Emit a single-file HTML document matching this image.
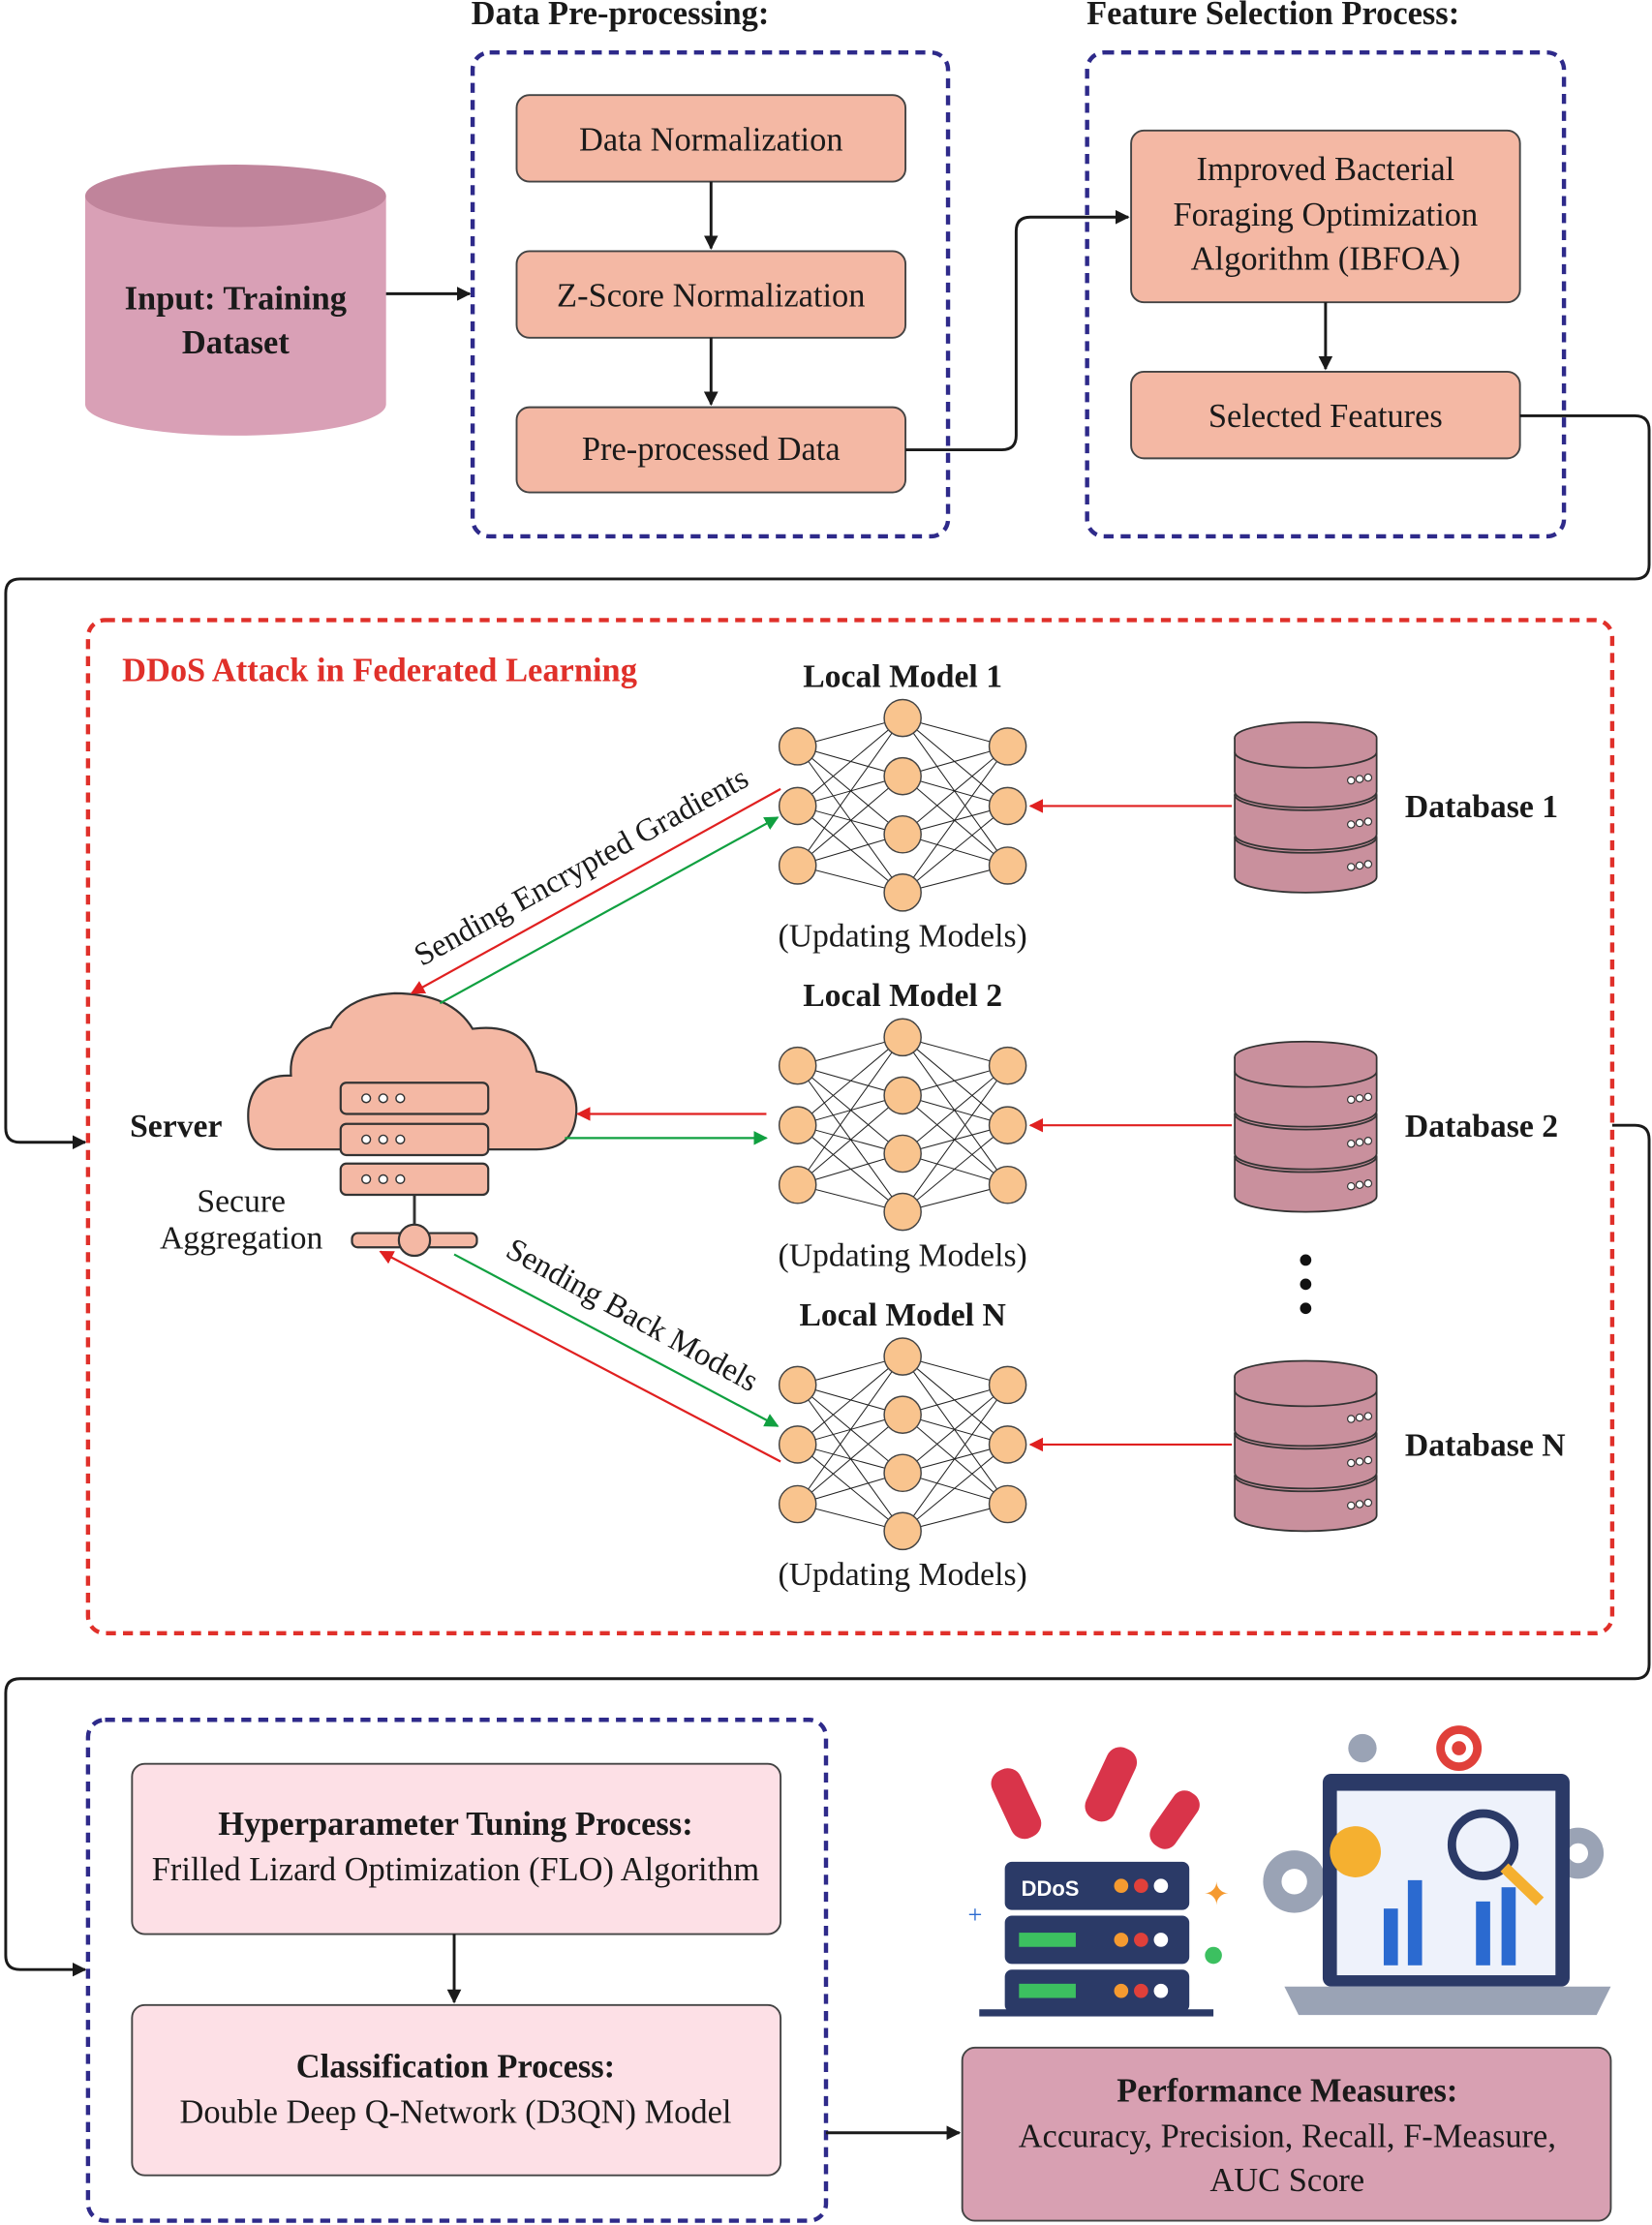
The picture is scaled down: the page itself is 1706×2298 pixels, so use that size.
<!DOCTYPE html>
<html><head><meta charset="utf-8"><style>
html,body{margin:0;padding:0;background:#fff;width:1706px;height:2298px;overflow:hidden}
svg{display:block}
text{font-family:"Liberation Serif",serif;fill:#1a1a1a}
.b{font-weight:bold}
</style></head><body>
<svg width="1706" height="2298" viewBox="0 0 1164 1568" xmlns="http://www.w3.org/2000/svg">
<defs>
<marker id="ak" markerWidth="10" markerHeight="10" refX="9" refY="5" orient="auto" markerUnits="userSpaceOnUse"><path d="M0,0 L10,5 L0,10 z" fill="#1a1a1a"/></marker>
<marker id="ar" markerWidth="10" markerHeight="10" refX="9" refY="5" orient="auto" markerUnits="userSpaceOnUse"><path d="M0,0 L10,5 L0,10 z" fill="#e02020"/></marker>
<marker id="ag" markerWidth="10" markerHeight="10" refX="9" refY="5" orient="auto" markerUnits="userSpaceOnUse"><path d="M0,0 L10,5 L0,10 z" fill="#10a040"/></marker>
<g id="nn" stroke="#333" stroke-width="0.6">
<g stroke="#222" stroke-width="0.7">
<path d="M562,526 L636,506 M562,526 L636,547 M562,526 L636,588 M562,526 L636,629 M562,568 L636,506 M562,568 L636,547 M562,568 L636,588 M562,568 L636,629 M562,610 L636,506 M562,610 L636,547 M562,610 L636,588 M562,610 L636,629 M710,526 L636,506 M710,526 L636,547 M710,526 L636,588 M710,526 L636,629 M710,568 L636,506 M710,568 L636,547 M710,568 L636,588 M710,568 L636,629 M710,610 L636,506 M710,610 L636,547 M710,610 L636,588 M710,610 L636,629"/>
</g>
<g fill="#f9c48e" stroke="#444" stroke-width="1">
<circle cx="562" cy="526" r="13"/><circle cx="562" cy="568" r="13"/><circle cx="562" cy="610" r="13"/>
<circle cx="636" cy="506" r="13"/><circle cx="636" cy="547" r="13"/><circle cx="636" cy="588" r="13"/><circle cx="636" cy="629" r="13"/>
<circle cx="710" cy="526" r="13"/><circle cx="710" cy="568" r="13"/><circle cx="710" cy="610" r="13"/>
</g></g>
<g id="db" stroke="#333" stroke-width="1.2">
<path d="M870,590 v28 a50,11 0 0 0 100,0 v-28" fill="#c9909d"/>
<ellipse cx="920" cy="590" rx="50" ry="11" fill="#c9909d"/>
<path d="M870,560 v28 a50,11 0 0 0 100,0 v-28" fill="#c9909d"/>
<ellipse cx="920" cy="560" rx="50" ry="11" fill="#c9909d"/>
<path d="M870,530 v28 a50,11 0 0 0 100,0 v-28" fill="#c9909d"/>
<ellipse cx="920" cy="520" rx="50" ry="11" fill="#c9909d"/>
<path d="M870,520 v10 a50,11 0 0 0 100,0 v-10" fill="#c9909d"/>
<g fill="#fff" stroke-width="0.8"><circle cx="952" cy="550" r="2.5"/><circle cx="958" cy="549" r="2.5"/><circle cx="964" cy="548" r="2.5"/><circle cx="952" cy="581" r="2.5"/><circle cx="958" cy="580" r="2.5"/><circle cx="964" cy="579" r="2.5"/><circle cx="952" cy="611" r="2.5"/><circle cx="958" cy="610" r="2.5"/><circle cx="964" cy="609" r="2.5"/></g>
</g>
</defs>

<text x="437" y="17" class="b" font-size="23.5" text-anchor="middle">Data Pre-processing:</text>
<text x="897" y="17" class="b" font-size="23.5" text-anchor="middle">Feature Selection Process:</text>
<rect x="333" y="37" width="335" height="341" rx="12" fill="none" stroke="#2e2a8a" stroke-width="3" stroke-dasharray="7,5"/>
<rect x="766" y="37" width="336" height="341" rx="12" fill="none" stroke="#2e2a8a" stroke-width="3" stroke-dasharray="7,5"/>

<path d="M60,138 v147 a106,22 0 0 0 212,0 v-147" fill="#d9a0b6" stroke="none"/>
<ellipse cx="166" cy="138" rx="106" ry="22" fill="#c0849b"/>
<text x="166" y="218" class="b" font-size="23.5" text-anchor="middle">Input: Training</text>
<text x="166" y="249" class="b" font-size="23.5" text-anchor="middle">Dataset</text>
<line x1="272" y1="207" x2="331" y2="207" stroke="#1a1a1a" stroke-width="2" marker-end="url(#ak)"/>

<g fill="#f4b8a4" stroke="#444" stroke-width="1.3">
<rect x="364" y="67" width="274" height="61" rx="9"/>
<rect x="364" y="177" width="274" height="61" rx="9"/>
<rect x="364" y="287" width="274" height="60" rx="9"/>
<rect x="797" y="92" width="274" height="121" rx="9"/>
<rect x="797" y="262" width="274" height="61" rx="9"/>
</g>
<text x="501" y="106" font-size="23.5" text-anchor="middle">Data Normalization</text>
<text x="501" y="216" font-size="23.5" text-anchor="middle">Z-Score Normalization</text>
<text x="501" y="324" font-size="23.5" text-anchor="middle">Pre-processed Data</text>
<text x="934" y="127" font-size="23.5" text-anchor="middle">Improved Bacterial</text>
<text x="934" y="159" font-size="23.5" text-anchor="middle">Foraging Optimization</text>
<text x="934" y="190" font-size="23.5" text-anchor="middle">Algorithm (IBFOA)</text>
<text x="934" y="301" font-size="23.5" text-anchor="middle">Selected Features</text>
<g stroke="#1a1a1a" stroke-width="2" fill="none">
<line x1="501" y1="128" x2="501" y2="175" marker-end="url(#ak)"/>
<line x1="501" y1="238" x2="501" y2="285" marker-end="url(#ak)"/>
<line x1="934" y1="213" x2="934" y2="260" marker-end="url(#ak)"/>
<path d="M638,317 H706 q10,0 10,-10 V163 q0,-10 10,-10 H795" marker-end="url(#ak)"/>
<path d="M1071,293 H1152 q10,0 10,10 V398 q0,10 -10,10 H14 q-10,0 -10,10 V795 q0,10 10,10 H60" marker-end="url(#ak)"/>
<path d="M1136,793 H1152 q10,0 10,10 V1173 q0,10 -10,10 H14 q-10,0 -10,10 V1378 q0,10 10,10 H60" marker-end="url(#ak)"/>
</g>

<rect x="62" y="437" width="1074" height="714" rx="12" fill="none" stroke="#e0302a" stroke-width="3" stroke-dasharray="7,5"/>
<text x="86" y="480" class="b" font-size="23.5" style="fill:#e0302a">DDoS Attack in Federated Learning</text>

<use href="#nn"/>
<use href="#nn" y="225"/>
<use href="#nn" y="450"/>
<text x="636" y="484" class="b" font-size="23" text-anchor="middle">Local Model 1</text>
<text x="636" y="709" class="b" font-size="23" text-anchor="middle">Local Model 2</text>
<text x="636" y="934" class="b" font-size="23" text-anchor="middle">Local Model N</text>
<text x="636" y="667" font-size="23" text-anchor="middle">(Updating Models)</text>
<text x="636" y="892" font-size="23" text-anchor="middle">(Updating Models)</text>
<text x="636" y="1117" font-size="23" text-anchor="middle">(Updating Models)</text>

<use href="#db"/>
<use href="#db" y="225"/>
<use href="#db" y="450"/>
<text x="990" y="576" class="b" font-size="23">Database 1</text>
<text x="990" y="801" class="b" font-size="23">Database 2</text>
<text x="990" y="1026" class="b" font-size="23">Database N</text>
<circle cx="920" cy="888" r="4" fill="#111"/><circle cx="920" cy="905" r="4" fill="#111"/><circle cx="920" cy="922" r="4" fill="#111"/>
<g stroke="#e02020" stroke-width="1.5">
<line x1="868" y1="568" x2="726" y2="568" marker-end="url(#ar)"/>
<line x1="868" y1="793" x2="726" y2="793" marker-end="url(#ar)"/>
<line x1="868" y1="1018" x2="726" y2="1018" marker-end="url(#ar)"/>
</g>

<path d="M195,810 q-22,0 -20,-28 q3,-25 30,-24 q-2,-28 28,-34 q10,-22 45,-24 q40,0 55,25 q40,-5 45,30 q30,5 28,30 q-2,25 -28,25 z" fill="#f4b8a4" stroke="#333" stroke-width="1.5"/>
<g fill="#f4b8a4" stroke="#333" stroke-width="1.5">
<rect x="240" y="763" width="104" height="22" rx="4"/>
<rect x="240" y="792" width="104" height="22" rx="4"/>
<rect x="240" y="820" width="104" height="22" rx="4"/>
<rect x="248" y="869" width="88" height="10" rx="4"/>
<circle cx="292" cy="874" r="11"/>
</g>
<line x1="292" y1="842" x2="292" y2="863" stroke="#333" stroke-width="2"/>
<g fill="#fff" stroke="#333" stroke-width="1"><circle cx="258" cy="774" r="3"/><circle cx="270" cy="774" r="3"/><circle cx="282" cy="774" r="3"/><circle cx="258" cy="803" r="3"/><circle cx="270" cy="803" r="3"/><circle cx="282" cy="803" r="3"/><circle cx="258" cy="831" r="3"/><circle cx="270" cy="831" r="3"/><circle cx="282" cy="831" r="3"/></g>
<text x="124" y="801" class="b" font-size="23" text-anchor="middle">Server</text>
<text x="170" y="854" font-size="23" text-anchor="middle">Secure</text>
<text x="170" y="880" font-size="23" text-anchor="middle">Aggregation</text>

<line x1="550" y1="556" x2="290" y2="700" stroke="#e02020" stroke-width="1.5" marker-end="url(#ar)"/>
<line x1="310" y1="707" x2="548" y2="576" stroke="#10a040" stroke-width="1.5" marker-end="url(#ag)"/>
<line x1="540" y1="785" x2="407" y2="785" stroke="#e02020" stroke-width="1.5" marker-end="url(#ar)"/>
<line x1="398" y1="802" x2="540" y2="802" stroke="#10a040" stroke-width="1.5" marker-end="url(#ag)"/>
<line x1="320" y1="884" x2="548" y2="1005" stroke="#10a040" stroke-width="1.5" marker-end="url(#ag)"/>
<line x1="550" y1="1030" x2="268" y2="882" stroke="#e02020" stroke-width="1.5" marker-end="url(#ar)"/>
<text x="413" y="617" font-size="22.5" text-anchor="middle" transform="rotate(-29 413 617)">Sending Encrypted Gradients</text>
<text x="442" y="933" font-size="22.5" text-anchor="middle" transform="rotate(29 442 933)">Sending Back Models</text>

<rect x="62" y="1212" width="520" height="353" rx="12" fill="none" stroke="#2e2a8a" stroke-width="3" stroke-dasharray="7,5"/>
<g fill="#fde0e6" stroke="#444" stroke-width="1.3">
<rect x="93" y="1243" width="457" height="120" rx="9"/>
<rect x="93" y="1413" width="457" height="120" rx="9"/>
</g>
<text x="321" y="1293" class="b" font-size="23.5" text-anchor="middle">Hyperparameter Tuning Process:</text>
<text x="321" y="1325" font-size="23.5" text-anchor="middle">Frilled Lizard Optimization (FLO) Algorithm</text>
<text x="321" y="1464" class="b" font-size="23.5" text-anchor="middle">Classification Process:</text>
<text x="321" y="1496" font-size="23.5" text-anchor="middle">Double Deep Q-Network (D3QN) Model</text>
<line x1="320" y1="1363" x2="320" y2="1411" stroke="#1a1a1a" stroke-width="2" marker-end="url(#ak)"/>
<line x1="582" y1="1503" x2="676" y2="1503" stroke="#1a1a1a" stroke-width="2" marker-end="url(#ak)"/>
<rect x="678" y="1443" width="457" height="122" rx="9" fill="#d8a0b2" stroke="#444" stroke-width="1.3"/>
<text x="907" y="1481" class="b" font-size="23.5" text-anchor="middle">Performance Measures:</text>
<text x="907" y="1513" font-size="23.5" text-anchor="middle">Accuracy, Precision, Recall, F-Measure,</text>
<text x="907" y="1544" font-size="23.5" text-anchor="middle">AUC Score</text>

<g>
<rect x="708" y="1312" width="130" height="34" rx="5" fill="#2b3a67"/>
<rect x="708" y="1350" width="130" height="34" rx="5" fill="#2b3a67"/>
<rect x="708" y="1388" width="130" height="30" rx="5" fill="#2b3a67"/>
<rect x="690" y="1416" width="165" height="5" fill="#2b3a67"/>
<text x="740" y="1336" font-size="15" class="b" style="fill:#fff;font-family:'Liberation Sans',sans-serif" text-anchor="middle">DDoS</text>
<rect x="718" y="1362" width="40" height="10" fill="#3cc060"/>
<rect x="718" y="1398" width="40" height="10" fill="#3cc060"/>
<g><circle cx="790" cy="1329" r="5" fill="#f59a30"/><circle cx="804" cy="1329" r="5" fill="#e0403a"/><circle cx="818" cy="1329" r="5" fill="#fff"/>
<circle cx="790" cy="1367" r="5" fill="#f59a30"/><circle cx="804" cy="1367" r="5" fill="#e0403a"/><circle cx="818" cy="1367" r="5" fill="#fff"/>
<circle cx="790" cy="1403" r="5" fill="#f59a30"/><circle cx="804" cy="1403" r="5" fill="#e0403a"/><circle cx="818" cy="1403" r="5" fill="#fff"/></g>
<rect x="705" y="1245" width="22" height="52" rx="10" fill="#d9344a" transform="rotate(-25 716 1271)"/>
<rect x="772" y="1230" width="22" height="55" rx="10" fill="#d9344a" transform="rotate(25 783 1257)"/>
<rect x="818" y="1260" width="20" height="45" rx="9" fill="#d9344a" transform="rotate(35 828 1282)"/>
<circle cx="855" cy="1378" r="6" fill="#3cc060"/>
<text x="848" y="1342" font-size="22" style="fill:#f59a30">✦</text>
<text x="682" y="1355" font-size="18" style="fill:#2b6ad0">+</text>
</g>
<g>
<circle cx="912" cy="1326" r="22" fill="#9aa3b5"/><circle cx="912" cy="1326" r="9" fill="#fff"/>
<circle cx="1112" cy="1306" r="18" fill="#9aa3b5"/><circle cx="1112" cy="1306" r="7" fill="#fff"/>
<rect x="932" y="1250" width="174" height="150" rx="6" fill="#2b3a67"/>
<rect x="942" y="1262" width="154" height="130" fill="#eef2fb"/>
<path d="M905,1400 h230 l-10,20 h-210 z" fill="#9aa3b5"/>
<rect x="975" y="1345" width="10" height="40" fill="#2b6ad0"/><rect x="992" y="1325" width="10" height="60" fill="#2b6ad0"/><rect x="1040" y="1340" width="10" height="45" fill="#2b6ad0"/><rect x="1058" y="1330" width="10" height="55" fill="#2b6ad0"/>
<circle cx="955" cy="1305" r="18" fill="#f5b030"/>
<circle cx="1045" cy="1300" r="22" fill="none" stroke="#2b3a67" stroke-width="6"/>
<line x1="1060" y1="1316" x2="1085" y2="1340" stroke="#f5b030" stroke-width="8"/>
<circle cx="1028" cy="1232" r="16" fill="#e0403a"/><circle cx="1028" cy="1232" r="10" fill="#fff"/><circle cx="1028" cy="1232" r="5" fill="#e0403a"/>
<circle cx="960" cy="1232" r="10" fill="#9aa3b5"/>
</g>
</svg>
</body></html>
